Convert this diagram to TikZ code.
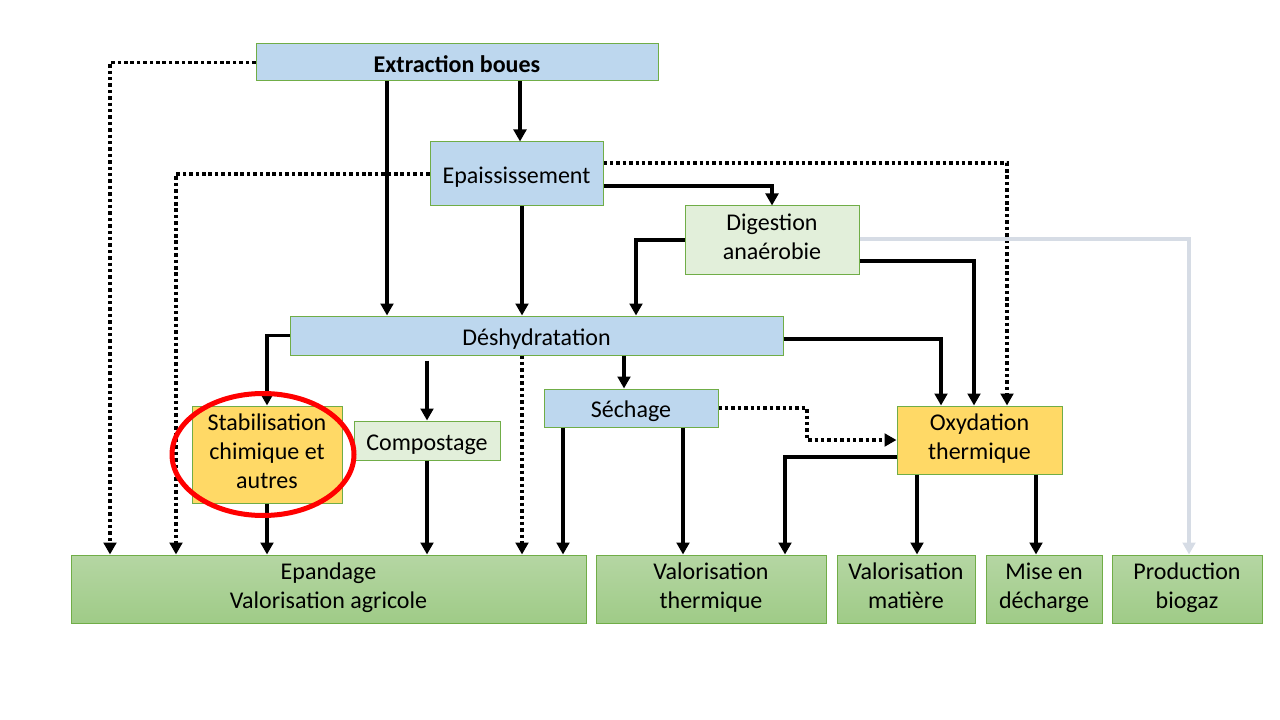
\documentclass[tikz,border=0pt]{standalone}
\usepackage{fontspec}
\setmainfont{Carlito}
\usepackage{tikz}
\usetikzlibrary{arrows.meta, positioning, calc}

\definecolor{boxblue}{HTML}{BDD7EE}
\definecolor{boxline}{HTML}{70AD47}
\definecolor{palegreen}{HTML}{E2EFDA}
\definecolor{boxyellow}{HTML}{FFD966}
\definecolor{gtop}{HTML}{B5D6A3}
\definecolor{gbot}{HTML}{9FCB87}
\definecolor{biogasline}{HTML}{D6DCE5}

\newcommand{\topstrut}{\rule{0pt}{19.6pt}}
\newcommand{\multistrut}{\rule{0pt}{25pt}}
\newcommand{\botstrut}{\rule[-5pt]{0pt}{5pt}}

\tikzset{
  box/.style={draw=boxline, line width=0.75pt, inner sep=0pt, align=center,
    font=\fontsize{18}{21.8}\selectfont,
    execute at begin node=\topstrut, execute at end node=\botstrut},
  multi/.style={execute at begin node=\multistrut},
  bluebox/.style={box, fill=boxblue},
  palebox/.style={box, fill=palegreen},
  yellowbox/.style={box, fill=boxyellow},
  endbox/.style={box, multi, top color=gtop, bottom color=gbot, minimum height=51pt},
  arr/.style={line width=2.6pt, -{Triangle[length=9pt,width=9.5pt]}},
  dotarr/.style={arr, dash pattern=on 2.6pt off 2.2pt},
  grayarr/.style={arr, draw=biogasline, -{Triangle[length=9pt,width=9.5pt,fill=biogasline]}}
}

\begin{document}
\begin{tikzpicture}[x=0.75pt, y=-0.75pt]

\useasboundingbox (0,0) rectangle (1280,720);

% Etapes de traitement
\node[bluebox, minimum width=301.5pt, minimum height=27.75pt, font=\fontsize{18}{21.8}\selectfont\bfseries] (extr) at (457,62.5) {Extraction boues};
\node[bluebox, minimum width=129.75pt, minimum height=48pt] (epai) at (516.5,174) {Epaississement};
\node[palebox, multi, minimum width=130.5pt, minimum height=51pt] (dige) at (772,240) {Digestion\\anaérobie};
\node[bluebox, minimum width=369.75pt, minimum height=29.25pt] (desh) at (536.5,335.5) {Déshydratation};
\node[yellowbox, multi, minimum width=112.5pt, minimum height=72.75pt] (stab) at (267,454.5) {Stabilisation\\chimique et\\autres};
\node[palebox, minimum width=109.5pt, minimum height=29.25pt] (comp) at (427,440.5) {Compostage};
\node[bluebox, minimum width=130.5pt, minimum height=28.5pt] (sech) at (631,408) {Séchage};
\node[yellowbox, multi, minimum width=123.75pt, minimum height=51pt] (oxyd) at (979.5,440) {Oxydation\\thermique};

% Destinations finales
\node[endbox, minimum width=386.25pt] (epan) at (328.5,589) {Epandage\\Valorisation agricole};
\node[endbox, minimum width=172.5pt] (valt) at (711,589) {Valorisation\\thermique};
\node[endbox, minimum width=103.5pt] (valm) at (906,589) {Valorisation\\matière};
\node[endbox, minimum width=87pt] (mise) at (1044,589) {Mise en\\décharge};
\node[endbox, minimum width=112.5pt] (prod) at (1187,589) {Production\\biogaz};

% Filieres depuis l'extraction et l'epaississement
\draw[dotarr] (extr.west) -| (epan.north -| 110,0);
\draw[arr] (extr.south -| 387,0) -- (desh.north -| 387,0);
\draw[arr] (extr.south -| 520,0) -- (epai.north -| 520,0);
\draw[dotarr] (epai.west) -| (epan.north -| 176,0);
\draw[dotarr] (epai.east |- 0,163) -| (oxyd.north -| 1007,0);
\draw[arr] (epai.east |- 0,186) -| (dige.north);
\draw[arr] (epai.south -| 522,0) -- (desh.north -| 522,0);

% Digestion
\draw[grayarr] (dige.east |- 0,239) -| (prod.north -| 1189,0);
\draw[arr] (dige.west) -| (desh.north -| 636,0);
\draw[arr] (dige.east |- 0,261) -| (oxyd.north -| 974,0);

% Deshydratation
\draw[arr] (desh.east |- 0,339) -| (oxyd.north -| 941,0);
\draw[arr] (desh.west) -| (stab.north);
\draw[arr] (desh.south -| comp.north) ++(0,5) -- (comp.north);
\draw[dotarr] (desh.south -| 522,0) -- (epan.north -| 522,0);
\draw[arr] (desh.south -| 624,0) -- (sech.north -| 624,0);
\draw[arr] (stab.south) -- (epan.north -| stab.south);
\draw[arr] (comp.south) -- (epan.north -| comp.south);

% Sechage et oxydation
\draw[arr] (sech.south -| 563,0) -- (epan.north -| 563,0);
\draw[arr] (sech.south -| 683,0) -- (valt.north -| 683,0);
\draw[dotarr] (sech.east) -| (oxyd.west -| 807,0) -- (oxyd.west);
\draw[arr] (oxyd.west |- 0,457) -| (valt.north -| 785,0);
\draw[arr] (oxyd.south -| 917,0) -- (valm.north -| 917,0);
\draw[arr] (oxyd.south -| 1036,0) -- (mise.north -| 1036,0);

% Mise en evidence
\draw[red, line width=3.75pt] ([xshift=-3pt]stab.center) ellipse [x radius=68.25pt, y radius=45.75pt];

\end{tikzpicture}
\end{document}
